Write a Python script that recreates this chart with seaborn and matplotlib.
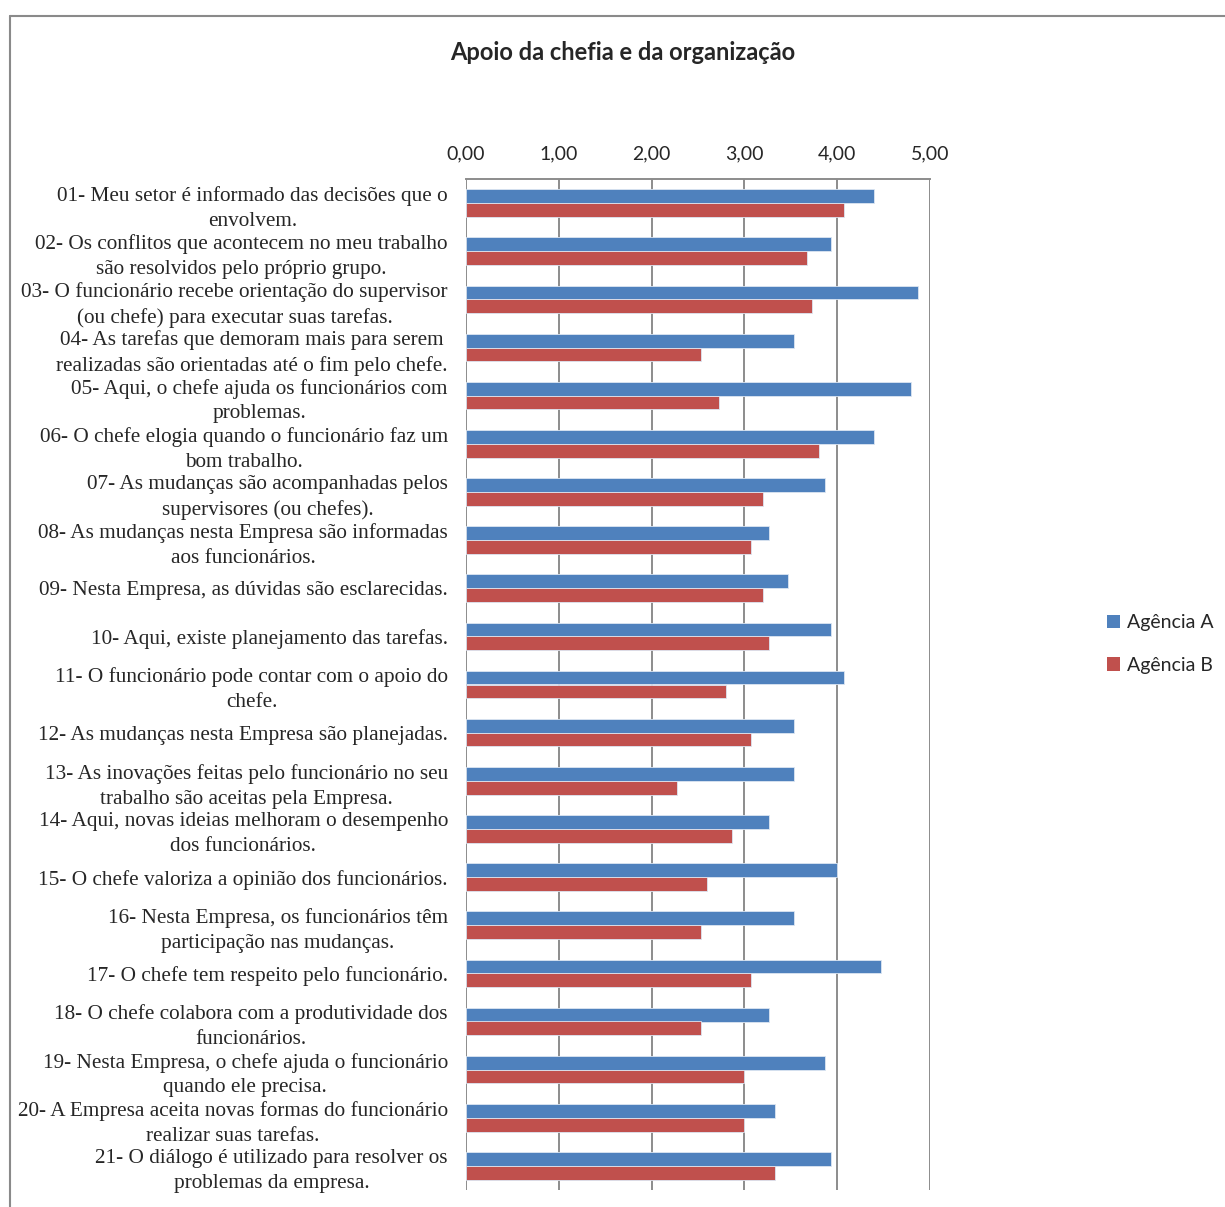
import matplotlib
matplotlib.use("Agg")
import matplotlib.pyplot as plt
from matplotlib.lines import Line2D
import pandas as pd
import seaborn as sns

titulo = "Apoio da chefia e da organização"

itens = [
    "01- Meu setor é informado das decisões que o\nenvolvem.",
    "02- Os conflitos que acontecem no meu trabalho\nsão resolvidos pelo próprio grupo.",
    "03- O funcionário recebe orientação do supervisor\n(ou chefe) para executar suas tarefas.",
    "04- As tarefas que demoram mais para serem\nrealizadas são orientadas até o fim pelo chefe.",
    "05- Aqui, o chefe ajuda os funcionários com\nproblemas.",
    "06- O chefe elogia quando o funcionário faz um\nbom trabalho.",
    "07- As mudanças são acompanhadas pelos\nsupervisores (ou chefes).",
    "08- As mudanças nesta Empresa são informadas\naos funcionários.",
    "09- Nesta Empresa, as dúvidas são esclarecidas.",
    "10- Aqui, existe planejamento das tarefas.",
    "11- O funcionário pode contar com o apoio do\nchefe.",
    "12- As mudanças nesta Empresa são planejadas.",
    "13- As inovações feitas pelo funcionário no seu\ntrabalho são aceitas pela Empresa.",
    "14- Aqui, novas ideias melhoram o desempenho\ndos funcionários.",
    "15- O chefe valoriza a opinião dos funcionários.",
    "16- Nesta Empresa, os funcionários têm\nparticipação nas mudanças.",
    "17- O chefe tem respeito pelo funcionário.",
    "18- O chefe colabora com a produtividade dos\nfuncionários.",
    "19- Nesta Empresa, o chefe ajuda o funcionário\nquando ele precisa.",
    "20- A Empresa aceita novas formas do funcionário\nrealizar suas tarefas.",
    "21- O diálogo é utilizado para resolver os\nproblemas da empresa.",
]

agencia_a = [4.40, 3.93, 4.87, 3.53, 4.80, 4.40, 3.87, 3.27, 3.47, 3.93, 4.07,
             3.53, 3.53, 3.27, 4.00, 3.53, 4.47, 3.27, 3.87, 3.33, 3.93]
agencia_b = [4.07, 3.67, 3.73, 2.53, 2.73, 3.80, 3.20, 3.07, 3.20, 3.27, 2.80,
             3.07, 2.27, 2.87, 2.60, 2.53, 3.07, 2.53, 3.00, 3.00, 3.33]

series = ["Agência A", "Agência B"]
cores = ["#4F81BD", "#C0504D"]
ticks_x = [0, 1, 2, 3, 4, 5]
rotulos_x = ["0,00", "1,00", "2,00", "3,00", "4,00", "5,00"]

df = pd.DataFrame({
    "item": itens * 2,
    "valor": agencia_a + agencia_b,
    "agencia": [series[0]] * len(itens) + [series[1]] * len(itens),
})

sns.set_style("white")
plt.rcParams["font.family"] = ["Lato", "DejaVu Sans"]

W, H = 1225, 1207
fig = plt.figure(figsize=(W / 100, H / 100), dpi=100)
ax = fig.add_axes([466 / W, 1 - 1190 / H, (930 - 466) / W, (1190 - 179) / H])

sns.barplot(data=df, y="item", x="valor", hue="agencia", orient="h",
            palette=cores, saturation=1, width=0.57, dodge=True, ax=ax,
            edgecolor="#DCE6F2", linewidth=0.6, legend=False, zorder=3)

ax.set_xlim(0, 5)
ax.set_ylim(len(itens) - 0.5, -0.5)
ax.set_xlabel("")
ax.set_ylabel("")

# value axis on top
ax.xaxis.tick_top()
ax.set_xticks(ticks_x)
ax.set_xticklabels(rotulos_x, fontsize=14, fontfamily="Lato")
ax.tick_params(axis="x", length=0, pad=12)
ax.grid(axis="x", color="#8C8C8C", linewidth=1.4, zorder=0)
ax.set_axisbelow(True)

ax.set_yticks(range(len(itens)))
ax.set_yticklabels(itens, fontsize=15.3, fontfamily="Liberation Serif",
                   multialignment="center", linespacing=1.42)
ax.tick_params(axis="y", length=0, pad=13)

for s in ["right", "bottom", "left"]:
    ax.spines[s].set_visible(False)
ax.spines["top"].set_color("#8C8C8C")
ax.spines["top"].set_linewidth(1.4)

fig.text(623 / W, 1 - 53 / H, titulo, ha="center", va="center",
         fontsize=17, fontweight="bold", fontfamily="Lato")

handles = [plt.Rectangle((0, 0), 1, 1, facecolor=c, edgecolor="none") for c in cores]
fig.legend(handles, series, loc="center left",
           bbox_to_anchor=(1089 / W, 1 - 644 / H), frameon=False,
           fontsize=14, handlelength=0.7, handleheight=0.7,
           handletextpad=0.35, labelspacing=1.3)

# outer chart border
borda = "#8A8A8A"
fig.add_artist(Line2D([10 / W, 1.0], [1 - 16 / H, 1 - 16 / H],
                      transform=fig.transFigure, color=borda, linewidth=1.5))
fig.add_artist(Line2D([10 / W, 10 / W], [1 - 16 / H, 0.0],
                      transform=fig.transFigure, color=borda, linewidth=1.5))

fig.savefig("out.png", dpi=100, facecolor="white")
